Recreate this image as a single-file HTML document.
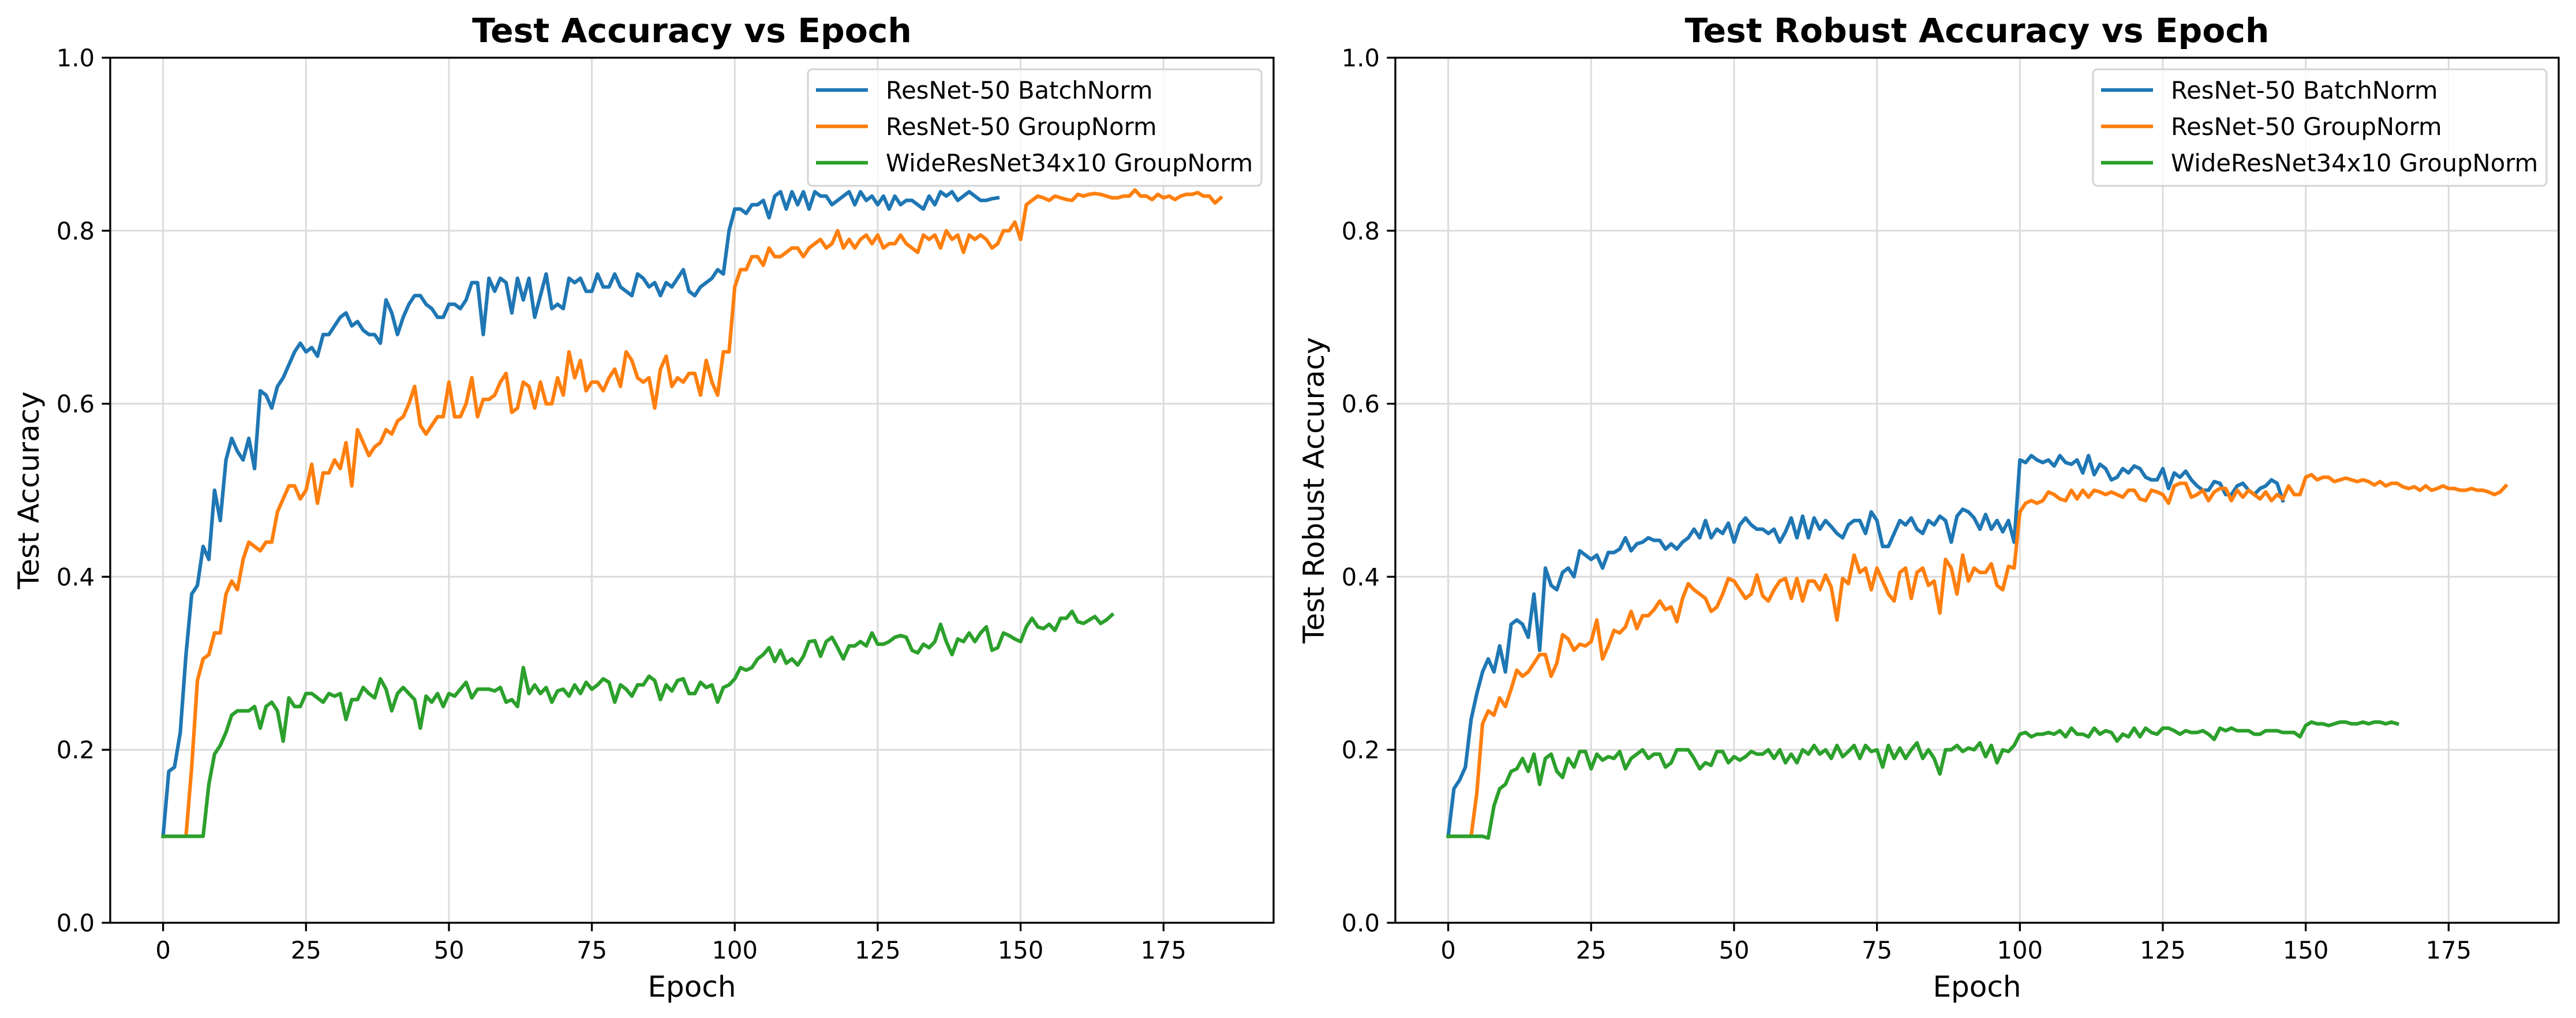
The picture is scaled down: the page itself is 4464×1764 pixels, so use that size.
<!DOCTYPE html>
<html><head><meta charset="utf-8"><style>
html,body{margin:0;padding:0;background:#fff;}
svg{display:block;font-family:"DejaVu Sans","Liberation Sans",sans-serif;}
</style></head><body>
<svg id="fig" width="4464" height="1764" viewBox="0 0 4464 1764" xmlns="http://www.w3.org/2000/svg"></svg>
<script>
const leftBN=[0.10,0.175,0.18,0.22,0.31,0.38,0.39,0.435,0.42,0.50,0.465,0.535,0.56,0.545,0.535,0.56,0.525,0.615,0.61,0.595,0.62,0.63,0.645,0.66,0.67,0.66,0.665,0.655,0.68,0.68,0.69,0.70,0.705,0.69,0.695,0.685,0.68,0.68,0.67,0.72,0.705,0.68,0.70,0.715,0.725,0.725,0.715,0.71,0.70,0.70,0.715,0.715,0.71,0.72,0.74,0.74,0.68,0.745,0.73,0.745,0.74,0.705,0.745,0.72,0.745,0.70,0.725,0.75,0.71,0.715,0.71,0.745,0.74,0.745,0.73,0.73,0.75,0.735,0.735,0.75,0.735,0.73,0.725,0.75,0.745,0.735,0.74,0.725,0.74,0.735,0.745,0.755,0.73,0.725,0.735,0.74,0.745,0.755,0.75,0.80,0.825,0.825,0.82,0.83,0.83,0.835,0.815,0.84,0.845,0.825,0.845,0.83,0.845,0.825,0.845,0.84,0.84,0.83,0.835,0.84,0.845,0.83,0.845,0.835,0.84,0.83,0.84,0.825,0.84,0.83,0.835,0.835,0.83,0.825,0.84,0.83,0.845,0.84,0.845,0.835,0.84,0.845,0.84,0.835,0.835,0.837,0.838];
const leftGN=[0.10,0.10,0.10,0.10,0.10,0.18,0.28,0.305,0.31,0.335,0.335,0.38,0.395,0.385,0.42,0.44,0.435,0.43,0.44,0.44,0.475,0.49,0.505,0.505,0.49,0.50,0.53,0.485,0.52,0.52,0.535,0.525,0.555,0.505,0.57,0.555,0.54,0.55,0.555,0.57,0.565,0.58,0.585,0.60,0.62,0.575,0.565,0.575,0.585,0.585,0.625,0.585,0.585,0.60,0.63,0.585,0.605,0.605,0.61,0.625,0.635,0.59,0.595,0.625,0.62,0.595,0.625,0.60,0.60,0.63,0.61,0.66,0.63,0.65,0.615,0.625,0.625,0.615,0.63,0.64,0.62,0.66,0.65,0.63,0.625,0.63,0.595,0.64,0.655,0.62,0.63,0.625,0.635,0.635,0.61,0.65,0.625,0.61,0.66,0.66,0.735,0.755,0.755,0.77,0.77,0.76,0.78,0.77,0.77,0.775,0.78,0.78,0.77,0.78,0.785,0.79,0.78,0.785,0.80,0.78,0.79,0.78,0.79,0.795,0.785,0.795,0.78,0.785,0.785,0.795,0.785,0.78,0.775,0.795,0.79,0.795,0.78,0.80,0.79,0.795,0.775,0.795,0.79,0.795,0.79,0.78,0.785,0.80,0.80,0.81,0.79,0.83,0.835,0.84,0.838,0.835,0.84,0.838,0.836,0.835,0.842,0.84,0.842,0.843,0.842,0.84,0.838,0.838,0.84,0.84,0.847,0.84,0.84,0.836,0.842,0.838,0.84,0.836,0.84,0.842,0.842,0.844,0.84,0.84,0.832,0.838];
const leftWRN=[0.10,0.10,0.10,0.10,0.10,0.10,0.10,0.10,0.16,0.195,0.205,0.22,0.24,0.245,0.245,0.245,0.25,0.225,0.25,0.255,0.245,0.21,0.26,0.25,0.25,0.265,0.265,0.26,0.255,0.265,0.262,0.265,0.235,0.258,0.258,0.272,0.265,0.26,0.282,0.27,0.245,0.265,0.272,0.265,0.258,0.225,0.262,0.255,0.265,0.25,0.265,0.262,0.27,0.278,0.26,0.27,0.27,0.27,0.268,0.272,0.255,0.258,0.25,0.295,0.265,0.275,0.265,0.272,0.255,0.268,0.27,0.262,0.275,0.265,0.278,0.27,0.275,0.282,0.278,0.255,0.275,0.27,0.262,0.275,0.275,0.285,0.28,0.258,0.275,0.268,0.28,0.282,0.265,0.265,0.278,0.272,0.275,0.255,0.272,0.275,0.282,0.295,0.292,0.295,0.305,0.31,0.318,0.302,0.315,0.30,0.305,0.298,0.308,0.325,0.326,0.308,0.325,0.33,0.318,0.305,0.32,0.32,0.325,0.32,0.335,0.322,0.322,0.325,0.33,0.332,0.33,0.315,0.312,0.322,0.318,0.325,0.345,0.325,0.31,0.328,0.325,0.335,0.325,0.335,0.342,0.315,0.318,0.335,0.332,0.328,0.325,0.342,0.352,0.342,0.34,0.345,0.338,0.352,0.352,0.36,0.348,0.346,0.35,0.354,0.346,0.35,0.356];
const rightBN=[0.10,0.155,0.165,0.18,0.235,0.265,0.29,0.305,0.29,0.32,0.29,0.345,0.35,0.345,0.33,0.38,0.315,0.41,0.39,0.385,0.405,0.41,0.40,0.43,0.425,0.42,0.425,0.41,0.428,0.428,0.432,0.445,0.43,0.438,0.44,0.445,0.442,0.442,0.432,0.438,0.432,0.44,0.445,0.455,0.445,0.465,0.445,0.455,0.45,0.462,0.44,0.46,0.468,0.46,0.455,0.455,0.45,0.455,0.44,0.452,0.468,0.445,0.47,0.445,0.468,0.455,0.465,0.458,0.45,0.445,0.46,0.465,0.465,0.45,0.475,0.465,0.435,0.435,0.45,0.465,0.46,0.468,0.455,0.45,0.465,0.46,0.47,0.465,0.44,0.47,0.478,0.475,0.468,0.455,0.472,0.455,0.465,0.452,0.465,0.44,0.535,0.532,0.54,0.535,0.532,0.535,0.528,0.54,0.532,0.53,0.535,0.52,0.54,0.518,0.53,0.525,0.512,0.515,0.525,0.52,0.528,0.525,0.515,0.512,0.512,0.525,0.502,0.52,0.515,0.522,0.512,0.505,0.50,0.50,0.51,0.508,0.495,0.495,0.505,0.508,0.50,0.495,0.502,0.505,0.512,0.508,0.488];
const rightGN=[0.10,0.10,0.10,0.10,0.10,0.15,0.23,0.245,0.24,0.26,0.25,0.27,0.292,0.285,0.29,0.30,0.31,0.31,0.285,0.30,0.333,0.328,0.315,0.322,0.32,0.325,0.35,0.305,0.32,0.338,0.335,0.342,0.36,0.34,0.355,0.355,0.362,0.372,0.362,0.365,0.348,0.375,0.392,0.385,0.38,0.375,0.36,0.365,0.38,0.398,0.395,0.385,0.375,0.38,0.402,0.378,0.372,0.385,0.395,0.398,0.375,0.398,0.372,0.395,0.395,0.385,0.402,0.388,0.35,0.398,0.392,0.425,0.405,0.41,0.385,0.41,0.395,0.38,0.372,0.405,0.41,0.375,0.405,0.41,0.39,0.395,0.358,0.42,0.41,0.38,0.425,0.395,0.41,0.405,0.405,0.415,0.39,0.385,0.412,0.41,0.475,0.485,0.488,0.485,0.488,0.498,0.495,0.49,0.488,0.50,0.49,0.50,0.492,0.50,0.498,0.495,0.498,0.495,0.492,0.50,0.50,0.49,0.488,0.50,0.498,0.495,0.485,0.505,0.508,0.508,0.492,0.495,0.50,0.488,0.498,0.502,0.502,0.488,0.50,0.492,0.50,0.495,0.49,0.498,0.488,0.495,0.49,0.505,0.495,0.495,0.515,0.518,0.512,0.515,0.515,0.51,0.512,0.514,0.512,0.51,0.512,0.51,0.506,0.51,0.505,0.508,0.508,0.504,0.502,0.504,0.50,0.505,0.50,0.502,0.505,0.502,0.502,0.50,0.50,0.502,0.50,0.50,0.498,0.495,0.498,0.505];
const rightWRN=[0.10,0.10,0.10,0.10,0.10,0.10,0.10,0.098,0.135,0.155,0.16,0.175,0.178,0.19,0.175,0.195,0.16,0.19,0.195,0.175,0.168,0.19,0.18,0.198,0.198,0.178,0.195,0.188,0.192,0.19,0.198,0.178,0.19,0.195,0.20,0.19,0.195,0.195,0.18,0.185,0.20,0.20,0.20,0.19,0.178,0.185,0.182,0.198,0.198,0.185,0.192,0.188,0.192,0.198,0.195,0.195,0.20,0.19,0.20,0.185,0.195,0.185,0.20,0.195,0.205,0.195,0.20,0.19,0.205,0.192,0.198,0.205,0.19,0.205,0.198,0.20,0.18,0.205,0.19,0.202,0.19,0.20,0.208,0.19,0.20,0.19,0.172,0.20,0.20,0.205,0.198,0.202,0.20,0.208,0.192,0.205,0.185,0.20,0.198,0.205,0.218,0.22,0.215,0.218,0.218,0.22,0.218,0.222,0.215,0.225,0.218,0.218,0.215,0.225,0.218,0.222,0.22,0.21,0.218,0.215,0.225,0.215,0.225,0.22,0.218,0.225,0.225,0.222,0.218,0.222,0.22,0.22,0.222,0.218,0.212,0.225,0.222,0.225,0.222,0.222,0.222,0.218,0.218,0.222,0.222,0.222,0.22,0.22,0.22,0.215,0.228,0.232,0.23,0.23,0.228,0.23,0.232,0.232,0.23,0.23,0.232,0.23,0.232,0.232,0.23,0.232,0.23];
const xTicks=[0,25,50,75,100,125,150,175];
const yTicks=[0.0,0.2,0.4,0.6,0.8,1.0];
const yTickLabels=["0.0","0.2","0.4","0.6","0.8","1.0"];
const seriesNames=["ResNet-50 BatchNorm","ResNet-50 GroupNorm","WideResNet34x10 GroupNorm"];
const colors=["#1f77b4","#ff7f0e","#2ca02c"];

const NS="http://www.w3.org/2000/svg";
const svg=document.getElementById('fig');
function mk(tag,attrs,parent){const e=document.createElementNS(NS,tag);for(const k in attrs)e.setAttribute(k,attrs[k]);(parent||svg).appendChild(e);return e;}
const T=100,B=1599,W=2016,XMIN=-9.25,XMAX=194.25;
function drawPanel(L,title,ylabel,series,key){
  const g=mk('g',{});
  
  
  const xs=v=>L+(v-XMIN)/(XMAX-XMIN)*W;
  const ys=v=>B-v*(B-T);
  xTicks.forEach(t=>{const l=mk('line',{x1:xs(t),x2:xs(t),y1:T,y2:B,stroke:'#dcdcdc','stroke-width':3},g);
    
    });
  yTicks.forEach(t=>{const l=mk('line',{x1:L,x2:L+W,y1:ys(t),y2:ys(t),stroke:'#dcdcdc','stroke-width':3},g);
    
    });
  series.forEach((s,i)=>{
    const p=mk('polyline',{points:s.map((v,e)=>xs(e).toFixed(1)+','+ys(v).toFixed(1)).join(' '),fill:'none',stroke:colors[i],'stroke-width':6.25,'stroke-linejoin':'round','stroke-linecap':'square'},g);
    
    
  });
  const fr=mk('rect',{x:L,y:T,width:W,height:B-T,fill:'none',stroke:'#000','stroke-width':3.3},g);
  
  
  xTicks.forEach(t=>{mk('line',{x1:xs(t),x2:xs(t),y1:B,y2:B+14.6,stroke:'#000','stroke-width':3.3},g);
    const tx=mk('text',{x:xs(t),y:1661,'font-size':41.7,'text-anchor':'middle'},g);tx.textContent=t;
    
    });
  yTicks.forEach((t,i)=>{mk('line',{x1:L-14.6,x2:L,y1:ys(t),y2:ys(t),stroke:'#000','stroke-width':3.3},g);
    const tx=mk('text',{x:L-27,y:ys(t)+15,'font-size':41.7,'text-anchor':'end'},g);tx.textContent=yTickLabels[i];
    
    });
  const tt=mk('text',{x:L+W/2,y:73,'font-size':58.3,'font-weight':'bold','text-anchor':'middle'},g);tt.textContent=title;
  
  
  const xl=mk('text',{x:L+W/2,y:1727,'font-size':50,'text-anchor':'middle'},g);xl.textContent='Epoch';
  
  
  const yx=L-124;
  const yl=mk('text',{x:yx,y:(T+B)/2,'font-size':50,'text-anchor':'middle',transform:`rotate(-90 ${yx} ${(T+B)/2})`},g);yl.textContent=ylabel;
  
  
  const lx=L+W-21-786;
  const lg=mk('g',{},g);
  
  
  mk('rect',{x:lx,y:120,width:786,height:202,rx:8,fill:'#fff','fill-opacity':0.8,stroke:'#d6d6d6','stroke-width':3.3},lg);
  seriesNames.forEach((n,i)=>{const cy=156+i*63;
    mk('line',{x1:lx+14,x2:lx+104,y1:cy,y2:cy,stroke:colors[i],'stroke-width':6.25},lg);
    const tx=mk('text',{x:lx+135,y:cy+15,'font-size':41.7},lg);tx.textContent=n;
    
    });
}
drawPanel(191,'Test Accuracy vs Epoch','Test Accuracy',[leftBN,leftGN,leftWRN],'accuracy');
drawPanel(2418,'Test Robust Accuracy vs Epoch','Test Robust Accuracy',[rightBN,rightGN,rightWRN],'robust');
</script>
</body></html>
